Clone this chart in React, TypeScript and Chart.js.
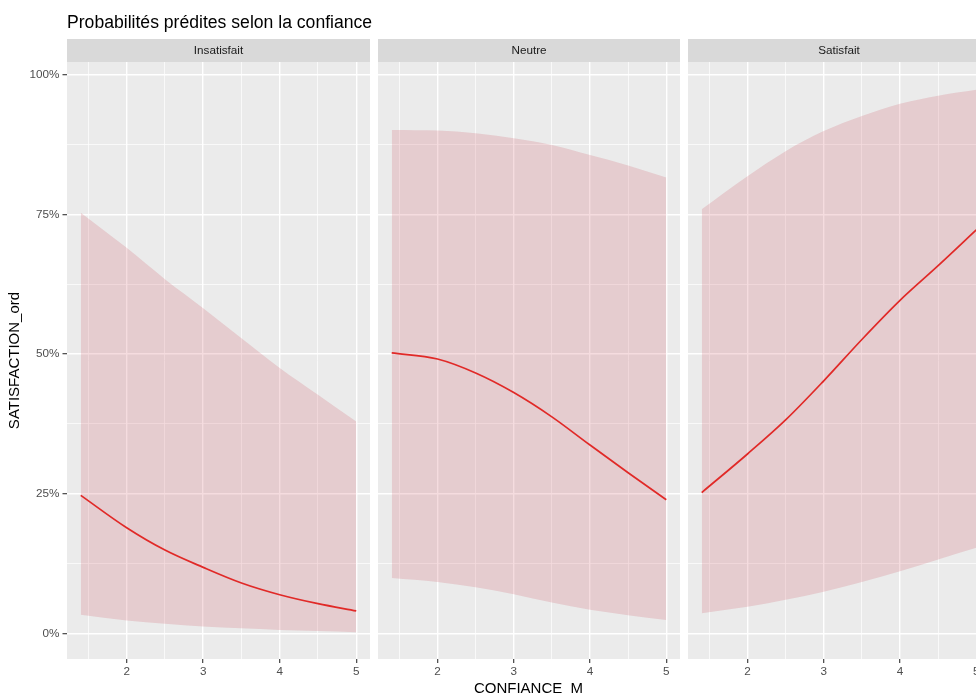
import React, { useEffect, useRef } from 'react';
import { Chart, registerables } from 'chart.js';

Chart.register(...registerables);

// ---------- data ----------
const X_VALUES = [1.4, 2, 2.5, 3, 3.5, 4, 4.5, 5];

const PANEL_NAMES = ['Insatisfait', 'Neutre', 'Satisfait'];

const INSATISFAIT_FIT = [24.7, 18.9, 14.9, 11.8, 9.0, 6.9, 5.3, 4.0];
const INSATISFAIT_UPPER = [75.3, 69.0, 63.4, 58.2, 52.8, 47.5, 42.7, 37.9];
const INSATISFAIT_LOWER = [3.3, 2.3, 1.7, 1.2, 0.9, 0.6, 0.4, 0.2];

const NEUTRE_FIT = [50.2, 49.1, 46.6, 43.1, 38.75, 33.7, 28.75, 23.9];
const NEUTRE_UPPER = [90.1, 90.0, 89.5, 88.6, 87.4, 85.6, 83.75, 81.6];
const NEUTRE_LOWER = [9.9, 9.2, 8.25, 7.0, 5.5, 4.2, 3.25, 2.4];

const SATISFAIT_FIT = [25.2, 32.1, 38.2, 45.2, 52.6, 59.6, 65.8, 72.2];
const SATISFAIT_UPPER = [75.9, 81.8, 86.3, 89.9, 92.6, 94.8, 96.25, 97.3];
const SATISFAIT_LOWER = [3.6, 4.76, 6.0, 7.44, 9.2, 11.1, 13.2, 15.3];

const X_TICKS = [1.5, 2, 2.5, 3, 3.5, 4, 4.5, 5];
const X_TICK_LABELS = ['', '2', '', '3', '', '4', '', '5'];
const Y_TICKS = [0, 12.5, 25, 37.5, 50, 62.5, 75, 87.5, 100];
const Y_TICK_LABELS = ['0%', '', '25%', '', '50%', '', '75%', '', '100%'];

const TITLE = 'Probabilités prédites selon la confiance';
const X_TITLE = 'CONFIANCE_M';
const Y_TITLE = 'SATISFACTION_ord';

const PANEL_DATA = [
  { fit: INSATISFAIT_FIT, upper: INSATISFAIT_UPPER, lower: INSATISFAIT_LOWER },
  { fit: NEUTRE_FIT, upper: NEUTRE_UPPER, lower: NEUTRE_LOWER },
  { fit: SATISFAIT_FIT, upper: SATISFAIT_UPPER, lower: SATISFAIT_LOWER },
];

// ---------- styles ----------
const FONT = '"Liberation Sans", Arial, Helvetica, sans-serif';
const X_MIN = 1.22;
const X_MAX = 5.18;
const Y_MIN = -4.6;
const Y_MAX = 102.27;
const PANEL_BG = '#ebebeb';
const STRIP_BG = '#d9d9d9';
const RIBBON = 'rgba(205, 80, 95, 0.2)';
const LINE = '#e6201a';
const STRIP_TOP = 39;
const PANEL_BOTTOM_SPACE = 34;
const Y_AXIS_WIDTH = 67;

const LAYOUT = [
  { left: 0, width: 370, showY: true },
  { left: 378, width: 302, showY: false },
  { left: 688, width: 302, showY: false },
];

const isMajorX = (v: number) => Math.abs(v - Math.round(v)) < 1e-6;
const isMajorY = (v: number) => Math.abs(v / 25 - Math.round(v / 25)) < 1e-6;

const panelBgPlugin = {
  id: 'panelBg',
  beforeDraw(chart: any) {
    const { ctx, chartArea } = chart;
    ctx.save();
    ctx.fillStyle = PANEL_BG;
    ctx.fillRect(chartArea.left, chartArea.top, chartArea.right - chartArea.left, chartArea.bottom - chartArea.top);
    ctx.fillStyle = STRIP_BG;
    ctx.fillRect(chartArea.left, STRIP_TOP, chartArea.right - chartArea.left, chartArea.top - STRIP_TOP);
    ctx.restore();
  },
};

function Panel({ index }: { index: number }) {
  const ref = useRef<HTMLCanvasElement | null>(null);
  const { left, width, showY } = LAYOUT[index];

  useEffect(() => {
    if (!ref.current) return;
    const d = PANEL_DATA[index];
    const pts = (arr: number[]) => X_VALUES.map((x, i) => ({ x, y: arr[i] }));
    const chart = new Chart(ref.current, {
      type: 'line',
      data: {
        datasets: [
          {
            label: 'lower',
            data: pts(d.lower),
            borderWidth: 0,
            borderColor: 'rgba(0,0,0,0)',
            pointRadius: 0,
            fill: false,
            cubicInterpolationMode: 'monotone',
          },
          {
            label: 'upper',
            data: pts(d.upper),
            borderWidth: 0,
            borderColor: 'rgba(0,0,0,0)',
            backgroundColor: RIBBON,
            pointRadius: 0,
            fill: 0,
            cubicInterpolationMode: 'monotone',
          },
          {
            label: 'fit',
            data: pts(d.fit),
            borderWidth: 1.7,
            borderColor: LINE,
            pointRadius: 0,
            fill: false,
            cubicInterpolationMode: 'monotone',
          },
        ],
      } as any,
      options: {
        animation: false,
        responsive: false,
        events: [],
        layout: { padding: { top: STRIP_TOP, left: 0, right: 0, bottom: 0 } },
        plugins: {
          legend: { display: false },
          tooltip: { enabled: false },
          title: {
            display: true,
            text: PANEL_NAMES[index],
            fullSize: false,
            color: '#1a1a1a',
            font: { family: FONT, size: 11.7, lineHeight: 1, weight: 'normal' },
            padding: { top: 6, bottom: 5.3 },
          },
        },
        scales: {
          x: {
            type: 'linear',
            min: X_MIN,
            max: X_MAX,
            afterBuildTicks: (s: any) => {
              s.ticks = X_TICKS.map((v) => ({ value: v }));
            },
            afterFit: (s: any) => {
              s.height = PANEL_BOTTOM_SPACE;
            },
            border: { display: false },
            grid: {
              color: '#ffffff',
              lineWidth: (c: any) => (c.tick && isMajorX(c.tick.value) ? 1.4 : 0.7),
              drawTicks: true,
              tickLength: 4,
              tickWidth: 1.1,
              tickColor: (c: any) => (c.tick && isMajorX(c.tick.value) ? '#333333' : 'rgba(0,0,0,0)'),
            },
            ticks: {
              autoSkip: false,
              maxRotation: 0,
              padding: 2,
              color: '#4d4d4d',
              font: { family: FONT, size: 11.7 },
              callback: (_v: any, i: number) => X_TICK_LABELS[i],
            },
          },
          y: {
            type: 'linear',
            min: Y_MIN,
            max: Y_MAX,
            afterBuildTicks: (s: any) => {
              s.ticks = Y_TICKS.map((v) => ({ value: v }));
            },
            afterFit: (s: any) => {
              s.width = showY ? Y_AXIS_WIDTH : 0;
            },
            title: {
              display: showY,
              text: Y_TITLE,
              color: '#000000',
              font: { family: FONT, size: 15, lineHeight: 1.2, weight: 'normal' },
              padding: { top: 6.3, bottom: 0 },
            },
            border: { display: false },
            grid: {
              color: '#ffffff',
              lineWidth: (c: any) => (c.tick && isMajorY(c.tick.value) ? 1.4 : 0.7),
              drawTicks: showY,
              tickLength: 4.5,
              tickWidth: 1.1,
              tickColor: (c: any) => (c.tick && isMajorY(c.tick.value) ? '#333333' : 'rgba(0,0,0,0)'),
            },
            ticks: {
              display: showY,
              autoSkip: false,
              padding: 3,
              color: '#4d4d4d',
              font: { family: FONT, size: 11.7 },
              callback: (_v: any, i: number) => Y_TICK_LABELS[i],
            },
          },
        },
      } as any,
      plugins: [panelBgPlugin],
    });
    return () => chart.destroy();
  }, [index]);

  return (
    <div style={{ position: 'absolute', left, top: 0, width, height: 693 }}>
      <canvas ref={ref} width={width} height={693} style={{ width, height: 693, display: 'block' }} />
    </div>
  );
}

export default function App() {
  return (
    <div
      style={{
        position: 'fixed',
        left: 0,
        top: 0,
        width: 976,
        height: 693,
        overflow: 'hidden',
        background: '#ffffff',
        fontFamily: FONT,
      }}
    >
      {[0, 1, 2].map((i) => (
        <Panel key={i} index={i} />
      ))}
      <div
        style={{
          position: 'absolute',
          left: 67,
          top: 12,
          fontSize: 17.6,
          lineHeight: '20px',
          color: '#000000',
          whiteSpace: 'nowrap',
        }}
      >
        {TITLE}
      </div>
      <div
        style={{
          position: 'absolute',
          left: 528.5 - 150,
          width: 300,
          top: 678.6,
          fontSize: 15,
          lineHeight: '17px',
          color: '#000000',
          textAlign: 'center',
          whiteSpace: 'nowrap',
        }}
      >
        {X_TITLE}
      </div>
    </div>
  );
}
